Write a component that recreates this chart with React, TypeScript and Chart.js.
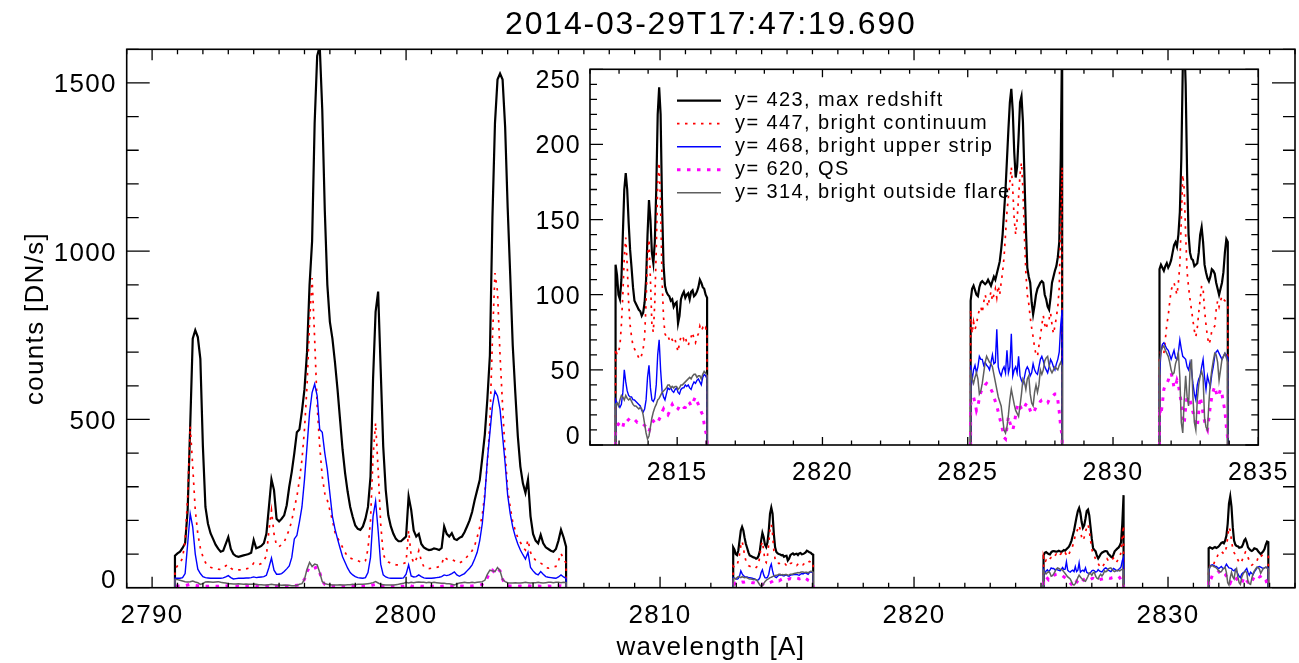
import React, { useEffect, useRef } from "react";
import { Chart, registerables } from "chart.js";
Chart.register(...registerables);

// ---------------- text ----------------
const TITLE = "2014-03-29T17:47:19.690";
const X_TITLE = "wavelength [A]";
const Y_TITLE = "counts [DN/s]";
const LEGEND_LABELS = [
  "y= 423, max redshift",
  "y= 447, bright continuum",
  "y= 468, bright upper strip",
  "y= 620, QS",
  "y= 314, bright outside flare",
];

// ---------------- wavelength grids (detector windows) ----------------
const W1_START = 2790.9;
const W1_STEP = 0.1;
const W2_START = 2812.88;
const W3_START = 2825.1;
const W4_START = 2831.6;
const FINE_STEP = 0.05;
const MISSING = -200; // value outside the spectral windows

// ---------------- window 1 (2790.9 - 2806.3, step 0.1) ----------------
const black1 = [
  95, 102, 107, 118, 132, 230, 480, 740, 765, 745,
  680, 420, 240, 190, 162, 145, 128, 116, 107, 110,
  130, 150, 115, 100, 94, 92, 94, 96, 98, 100,
  104, 142, 117, 120, 124, 132, 160, 240, 322, 290,
  205, 197, 205, 215, 245, 300, 345, 400, 462, 470,
  525, 590, 700, 900, 1030, 1380, 1580, 1610, 1420, 1120,
  900, 790, 740, 670, 590, 500, 410, 340, 285, 240,
  210, 185, 175, 172, 182, 205, 240, 330, 620, 820,
  880, 650, 420, 290, 215, 182, 160, 145, 138, 138,
  145, 152, 271, 232, 170, 152, 160, 130, 120, 115,
  112, 113, 117, 115, 112, 118, 182, 160, 152, 162,
  145, 142, 148, 152, 165, 182, 200, 225, 260, 290,
  320, 385, 455, 560, 690, 1100, 1380, 1510, 1528, 1510,
  1370, 1130, 930, 720, 580, 450, 360, 310, 282, 321,
  212, 160, 140, 132, 157, 132, 120, 115, 110, 107,
  115, 140, 172, 150, 122,
];
const red1 = [
  55, 65, 74, 88, 140, 270, 480, 360, 230, 160,
  118, 92, 75, 65, 61, 58, 57, 55, 54, 58,
  65, 68, 58, 53, 52, 53, 53, 54, 56, 58,
  62, 73, 68, 68, 72, 80, 95, 170, 230, 160,
  125, 122, 128, 135, 155, 172, 200, 238, 270, 320,
  380, 470, 600, 790, 920, 740, 540, 420, 330, 280,
  260, 230, 200, 165, 148, 135, 120, 105, 92, 88,
  85, 83, 80, 77, 74, 80, 115, 200, 391, 490,
  350, 190, 100, 82, 76, 73, 70, 68, 68, 70,
  72, 75, 170, 95, 73, 85, 110, 80, 62, 58,
  57, 58, 58, 60, 63, 70, 92, 85, 82, 84,
  80, 75, 73, 78, 84, 92, 100, 110, 125, 150,
  180, 215, 280, 370, 490, 740, 935, 880, 690, 540,
  400, 291, 240, 195, 170, 148, 135, 120, 112, 142,
  105, 90, 82, 76, 73, 68, 60, 58, 60, 62,
  63, 80, 102, 85, 73,
];
const blue1 = [
  28, 28, 28, 30, 42, 130, 220, 180, 100, 55,
  42, 33, 30, 29, 28, 28, 28, 28, 28, 29,
  32, 36, 30, 26, 27, 28, 28, 28, 29, 29,
  30, 32, 30, 31, 32, 33, 37, 60, 88, 52,
  40, 40, 42, 48, 56, 65, 90, 145, 155, 195,
  240, 321, 420, 520, 580, 605, 570, 470, 462, 400,
  351, 280, 212, 175, 145, 118, 92, 75, 58, 45,
  38, 33, 30, 29, 28, 30, 45, 90, 212, 257,
  170, 70, 38, 32, 29, 28, 28, 28, 28, 28,
  29, 40, 68, 35, 32, 33, 38, 33, 29, 28,
  28, 28, 29, 30, 31, 33, 38, 36, 38, 42,
  47, 38, 34, 38, 42, 50, 58, 68, 85, 105,
  140, 190, 270, 380, 460, 540, 584, 570, 530, 450,
  370, 275, 220, 180, 152, 130, 112, 98, 85, 105,
  60, 50, 42, 38, 48, 40, 33, 31, 30, 29,
  28, 32, 38, 32, 28,
];
const qs1 = [
  5, 5, 5, 6, 6, 8, 10, 9, 7, 6,
  5, 5, 4, 4, 5, 5, 4, 4, 5, 4,
  5, 6, 5, 4, 4, 4, 3, 4, 4, 4,
  4, 5, 4, 4, 4, 4, 5, 7, 8, 6,
  5, 4, 4, 5, 5, 5, 5, 6, 7, 9,
  14, 25, 48, 60, 55, 58, 62, 45, 20, 10,
  6, 5, 5, 4, 4, 4, 4, 3, 4, 4,
  4, 4, 3, 4, 4, 4, 5, 6, 8, 10,
  7, 5, 4, 4, 3, 4, 4, 4, 3, 4,
  4, 5, 8, 5, 4, 4, 5, 4, 4, 4,
  3, 4, 4, 4, 3, 4, 5, 4, 4, 4,
  4, 4, 4, 5, 4, 4, 5, 5, 6, 7,
  8, 10, 14, 30, 48, 52, 44, 56, 50, 25,
  10, 6, 5, 5, 4, 4, 5, 4, 5, 6,
  5, 4, 4, 5, 4, 4, 4, 5, 4, 4,
  4, 5, 6, 5, 4,
];
const gray1 = [
  25, 24, 22, 20, 18, 17, 18, 20, 17, 15,
  10, 12, 17, 18, 17, 16, 17, 18, 16, 15,
  14, 12, 12, 11, 11, 12, 11, 10, 11, 10,
  10, 11, 10, 9, 9, 8, 8, 9, 10, 9,
  8, 8, 7, 8, 7, 7, 6, 6, 7, 10,
  12, 25, 55, 75, 63, 70, 68, 45, 18, 12,
  10, 9, 8, 8, 8, 9, 8, 8, 9, 9,
  10, 9, 10, 10, 10, 11, 12, 13, 15, 18,
  14, 10, 9, 8, 8, 8, 8, 9, 10, 12,
  13, 16, 14, 16, 15, 16, 17, 16, 16, 15,
  16, 15, 16, 15, 14, 13, 13, 12, 12, 10,
  8, 11, 14, 15, 16, 15, 15, 16, 15, 16,
  17, 18, 22, 40, 52, 50, 48, 60, 50, 24,
  18, 15, 14, 14, 15, 14, 14, 15, 16, 15,
  14, 15, 15, 16, 15, 14, 15, 16, 16, 15,
  16, 16, 15, 16, 15,
];

// ---------------- window 2 (2812.88 - 2816.03, step 0.05) ----------------
const black2 = [
  120, 113, 100, 97, 110, 140, 170, 181, 170, 148,
  130, 118, 105, 96, 94, 92, 90, 89, 86, 88,
  95, 110, 140, 163, 150, 128, 121, 135, 170, 220,
  238, 220, 160, 120, 106, 102, 100, 99, 96, 97,
  92, 94, 95, 81, 86, 97, 100, 102, 98, 100,
  101, 97, 102, 103, 99, 100, 102, 105, 110, 108,
  105, 104, 100, 98,
];
const red2 = [
  64, 60, 62, 66, 80, 100, 125, 138, 120, 95,
  80, 72, 66, 64, 62, 60, 58, 57, 60, 64,
  72, 95, 125, 137, 110, 80, 75, 95, 130, 175,
  188, 160, 110, 85, 74, 72, 73, 70, 72, 70,
  68, 70, 66, 62, 68, 72, 73, 70, 72, 68,
  66, 70, 72, 75, 70, 68, 72, 74, 79, 76,
  78, 76, 78, 75,
];
const blue2 = [
  30, 28, 27, 25, 27, 35, 50, 42, 36, 33,
  32, 32, 30, 30, 29, 28, 27, 26, 23, 22,
  24, 30, 45, 53, 38, 30, 29, 31, 40, 60,
  70, 50, 36, 32, 30, 34, 38, 37, 38, 36,
  35, 37, 38, 35, 34, 37, 38, 38, 40, 39,
  40, 38, 37, 40, 42, 41, 43, 44, 42, 40,
  45, 47, 46, 44,
];
const qs2 = [
  8, 12, 14, 15, 13, 12, 16, 17, 16, 17,
  18, 18, 18, 17, 16, 15, 15, 14, 14, 14,
  13, 12, 9, 9, 12, 15, 16, 15, 14, 15,
  17, 19, 22, 24, 22, 21, 20, 22, 25, 27,
  25, 24, 23, 24, 26, 27, 26, 25, 25, 27,
  29, 28, 26, 27, 30, 32, 29, 27, 25, 22,
  20, 14, 9, 5,
];
const gray2 = [
  27, 28, 26, 30, 33, 32, 30, 33, 31, 30,
  31, 29, 27, 26, 26, 25, 24, 25, 24, 20,
  14, 8, 4, 6, 12, 18, 22, 25, 27, 30,
  31, 33, 35, 36, 37, 38, 40, 40, 38, 39,
  38, 39, 39, 37, 38, 40, 40, 41, 42, 43,
  44, 45, 44, 46, 47, 47, 45, 46, 46, 44,
  47, 49, 48, 46,
];

// ---------------- window 3 (2825.10 - 2828.25, step 0.05) ----------------
const black3 = [
  96, 104, 106, 103, 100, 99, 105, 108, 109, 108,
  107, 108, 110, 108, 106, 109, 112, 110, 114, 118,
  122, 130, 140, 155, 170, 190, 210, 228, 237, 222,
  195, 178, 185, 205, 228, 232, 215, 180, 145, 118,
  112, 108, 95, 87, 93, 100, 104, 106, 108, 109,
  108, 100, 97, 92, 90, 98, 108, 112, 116, 119,
  125, 135, 190, 275,
];
const red3 = [
  90, 74, 82, 77, 80, 86, 90, 92, 88, 95,
  100, 96, 92, 98, 102, 96, 100, 104, 98, 106,
  100, 108, 115, 125, 140, 155, 165, 175, 185, 170,
  150, 140, 150, 165, 180, 188, 170, 140, 115, 100,
  94, 85, 78, 72, 65, 60, 59, 66, 72, 80,
  86, 80, 77, 82, 84, 88, 80, 74, 79, 85,
  92, 105, 150, 185,
];
const blue3 = [
  53, 43, 50, 53, 48, 52, 59, 57, 57, 53,
  55, 53, 52, 50, 55, 60, 54, 55, 77, 52,
  48, 46, 50, 52, 48, 63, 48, 52, 74, 46,
  50, 52, 48, 59, 46, 43, 41, 45, 50, 52,
  50, 46, 48, 54, 50, 48, 47, 52, 57, 59,
  56, 52, 50, 48, 52, 57, 55, 52, 50, 54,
  57, 62, 80, 90,
];
const qs3 = [
  27, 30, 32, 28, 23, 26, 31, 35, 37, 38,
  40, 41, 40, 38, 37, 35, 32, 29, 26, 22,
  18, 14, 10, 5, 4, 12, 19, 15, 12, 10,
  14, 20, 25, 28, 26, 24, 23, 25, 27, 28,
  26, 23, 21, 21, 23, 25, 26, 27, 29, 30,
  30, 29, 28, 28, 30, 31, 32, 33, 34, 34,
  30, 22, 12, 6,
];
const gray3 = [
  50, 44, 41, 45, 48, 44, 34, 36, 41, 48,
  55, 59, 57, 55, 54, 52, 47, 42, 37, 32,
  29, 26, 18, 10, 8, 12, 20, 30, 37, 32,
  27, 23, 21, 19, 26, 34, 44, 42, 37, 44,
  46, 34, 28, 26, 35, 40, 35, 40, 50, 47,
  50, 56, 58, 59, 53, 50, 48, 50, 52, 51,
  50, 53, 55, 52,
];

// ---------------- window 4 (2831.60 - 2833.95, step 0.05) ----------------
const black4 = [
  117, 120, 118, 116, 119, 121, 118, 120, 123, 128,
  133, 135, 132, 140, 155, 190, 250, 271, 240, 180,
  140, 128, 124, 123, 119, 120, 121, 128, 140, 145,
  135, 120, 115, 111, 109, 112, 117, 116, 114, 108,
  104, 100, 104, 108, 115, 128, 137, 135,
];
const red4 = [
  57, 64, 66, 61, 70, 80, 86, 95, 103, 106,
  108, 104, 100, 108, 120, 150, 180, 170, 140, 115,
  105, 97, 90, 83, 76, 72, 78, 88, 97, 106,
  104, 90, 80, 72, 67, 70, 76, 78, 79, 90,
  96, 92, 96, 99, 97, 96, 95, 93,
];
const blue4 = [
  46, 62, 67, 68, 66, 64, 63, 60, 57, 60,
  63, 58, 57, 62, 70, 64, 59, 58, 57, 52,
  50, 55, 50, 41, 34, 30, 40, 44, 46, 52,
  57, 45, 37, 46, 42, 39, 47, 52, 59, 62,
  63, 61, 59, 57, 59, 61, 60, 58,
];
const qs4 = [
  25, 20, 28, 37, 40, 41, 43, 46, 48, 44,
  38, 39, 43, 40, 34, 28, 18, 14, 25, 32,
  31, 30, 26, 22, 18, 15, 12, 22, 32, 27,
  21, 16, 12, 10, 18, 26, 32, 36, 39, 35,
  32, 34, 37, 34, 28, 23, 12, 4,
];
const gray4 = [
  54, 62, 65, 66, 63, 61, 59, 55, 50, 47,
  48, 54, 57, 61, 45, 15, 8, 30, 46, 32,
  26, 50, 57, 32, 15, 10, 30, 40, 46, 49,
  45, 18, 12, 10, 28, 42, 50, 56, 61, 60,
  55, 43, 50, 57, 59, 61, 58, 55,
];

// ---------------- helpers ----------------
const grid = (start: number, step: number, n: number) =>
  Array.from({ length: n }, (_, i) => Math.round((start + i * step) * 1000) / 1000);

const WL1 = grid(W1_START, W1_STEP, black1.length);
const WL2 = grid(W2_START, FINE_STEP, black2.length);
const WL3 = grid(W3_START, FINE_STEP, black3.length);
const WL4 = grid(W4_START, FINE_STEP, black4.length);
const WINDOWS = [WL1, WL2, WL3, WL4];

function buildPoints(parts: number[][]) {
  const pts: { x: number; y: number | null }[] = [];
  parts.forEach((vals, w) => {
    const wl = WINDOWS[w];
    pts.push({ x: wl[0], y: MISSING });
    vals.forEach((v, i) => pts.push({ x: wl[i], y: v }));
    pts.push({ x: wl[wl.length - 1], y: MISSING });
    pts.push({ x: wl[wl.length - 1] + 0.01, y: null });
  });
  return pts;
}

const SERIES = [
  { label: LEGEND_LABELS[0], color: "#000000", width: 2.2, dash: [] as number[], parts: [black1, black2, black3, black4], order: 4 },
  { label: LEGEND_LABELS[1], color: "#ff0000", width: 1.7, dash: [2.5, 5.5], parts: [red1, red2, red3, red4], order: 3 },
  { label: LEGEND_LABELS[2], color: "#0000ff", width: 1.4, dash: [] as number[], parts: [blue1, blue2, blue3, blue4], order: 2 },
  { label: LEGEND_LABELS[3], color: "#ff00ff", width: 3, dash: [3.5, 6.5], parts: [qs1, qs2, qs3, qs4], order: 1 },
  { label: LEGEND_LABELS[4], color: "#5f5f5f", width: 1.5, dash: [] as number[], parts: [gray1, gray2, gray3, gray4], order: 0 },
];

const FONT = '"Liberation Sans", Arial, Helvetica, sans-serif';

function makeDatasets() {
  return SERIES.map((s) => ({
    label: s.label,
    data: buildPoints(s.parts),
    borderColor: s.color,
    borderWidth: s.width,
    borderDash: s.dash,
    pointRadius: 0,
    tension: 0,
    fill: false,
    spanGaps: false,
    order: s.order,
  }));
}

type FrameOpts = {
  id: string;
  xMajor: number; xMinor: number; xMajorLen: number; xMinorLen: number;
  yMajor: number; yMinor: number; yMajorLen: number; yMinorLen: number;
  fontSize: number; ls: string; xLabelBase: number; yGap: number;
  frameWidth: number; tickWidth: number;
};

function framePlugin(o: FrameOpts) {
  return {
    id: o.id,
    afterDatasetsDraw(chart: any) {
      const ctx = chart.ctx;
      const a = chart.chartArea;
      const xs = chart.scales.x;
      const ys = chart.scales.y;
      ctx.save();
      ctx.strokeStyle = "#000";
      ctx.lineWidth = o.tickWidth;
      ctx.beginPath();
      const isMajor = (v: number, m: number) => Math.abs(v / m - Math.round(v / m)) < 1e-6;
      for (let i = Math.ceil(xs.min / o.xMinor - 1e-9); i <= Math.floor(xs.max / o.xMinor + 1e-9); i++) {
        const v = i * o.xMinor;
        const len = isMajor(v, o.xMajor) ? o.xMajorLen : o.xMinorLen;
        const px = xs.getPixelForValue(v);
        ctx.moveTo(px, a.bottom); ctx.lineTo(px, a.bottom - len);
        ctx.moveTo(px, a.top); ctx.lineTo(px, a.top + len);
      }
      for (let i = Math.ceil(ys.min / o.yMinor - 1e-9); i <= Math.floor(ys.max / o.yMinor + 1e-9); i++) {
        const v = i * o.yMinor;
        const len = isMajor(v, o.yMajor) ? o.yMajorLen : o.yMinorLen;
        const py = ys.getPixelForValue(v);
        ctx.moveTo(a.left, py); ctx.lineTo(a.left + len, py);
        ctx.moveTo(a.right, py); ctx.lineTo(a.right - len, py);
      }
      ctx.stroke();
      ctx.lineWidth = o.frameWidth;
      ctx.strokeRect(a.left, a.top, a.right - a.left, a.bottom - a.top);

      ctx.fillStyle = "#000";
      ctx.font = `${o.fontSize}px ${FONT}`;
      ctx.letterSpacing = o.ls;
      ctx.textBaseline = "alphabetic";
      ctx.textAlign = "center";
      for (let i = Math.ceil(xs.min / o.xMajor - 1e-9); i <= Math.floor(xs.max / o.xMajor + 1e-9); i++) {
        const v = i * o.xMajor;
        ctx.fillText(String(Math.round(v)), xs.getPixelForValue(v), a.bottom + o.xLabelBase);
      }
      ctx.textAlign = "right";
      const digitH = o.fontSize * 0.716;
      const half = 9.5;
      for (let i = Math.ceil(ys.min / o.yMajor - 1e-9); i <= Math.floor(ys.max / o.yMajor + 1e-9); i++) {
        const v = i * o.yMajor;
        let c = ys.getPixelForValue(v);
        c = Math.min(Math.max(c, a.top + half), a.bottom - half);
        ctx.fillText(String(Math.round(v)), a.left - o.yGap, c + digitH / 2);
      }
      ctx.restore();
    },
  };
}

const titlesPlugin = {
  id: "titles",
  afterDatasetsDraw(chart: any) {
    const ctx = chart.ctx;
    const a = chart.chartArea;
    const cx = (a.left + a.right) / 2;
    const cy = (a.top + a.bottom) / 2;
    ctx.save();
    ctx.fillStyle = "#000";
    ctx.textAlign = "center";
    ctx.textBaseline = "alphabetic";
    ctx.font = `32px ${FONT}`;
    ctx.letterSpacing = "1.8px";
    ctx.fillText(TITLE, cx, a.top - 15);
    ctx.font = `26px ${FONT}`;
    ctx.letterSpacing = "1.3px";
    ctx.fillText(X_TITLE, cx, a.bottom + 67);
    ctx.translate(36, cy);
    ctx.rotate(-Math.PI / 2);
    ctx.textBaseline = "middle";
    ctx.fillText(Y_TITLE, 0, 0);
    ctx.restore();
  },
};

const legendPlugin = {
  id: "insetLegend",
  afterDatasetsDraw(chart: any) {
    const ctx = chart.ctx;
    const a = chart.chartArea;
    ctx.save();
    ctx.font = `20px ${FONT}`;
    ctx.letterSpacing = "1.4px";
    ctx.textAlign = "left";
    ctx.textBaseline = "alphabetic";
    SERIES.forEach((s, k) => {
      const y = a.top + 31.4 + k * 23;
      ctx.beginPath();
      ctx.strokeStyle = s.color;
      ctx.lineWidth = s.width;
      ctx.setLineDash(s.dash);
      ctx.moveTo(a.left + 87, y);
      ctx.lineTo(a.left + 131, y);
      ctx.stroke();
      ctx.setLineDash([]);
      ctx.fillStyle = "#000";
      ctx.fillText(s.label, a.left + 145, y + 5);
    });
    ctx.restore();
  },
};

function baseOptions(padding: any, xMin: number, xMax: number, yMin: number, yMax: number) {
  return {
    animation: false,
    responsive: false,
    maintainAspectRatio: false,
    events: [],
    layout: { padding },
    plugins: { legend: { display: false }, title: { display: false }, tooltip: { enabled: false } },
    scales: {
      x: { type: "linear", min: xMin, max: xMax, display: false },
      y: { type: "linear", min: yMin, max: yMax, display: false },
    },
  };
}

export default function App() {
  const mainRef = useRef<HTMLCanvasElement | null>(null);
  const insetRef = useRef<HTMLCanvasElement | null>(null);

  useEffect(() => {
    const main = new Chart(mainRef.current as HTMLCanvasElement, {
      type: "line",
      data: { datasets: makeDatasets() as any },
      options: baseOptions({ left: 126.7, top: 49.3, right: 4, bottom: 75.3 }, 2789, 2835, 0, 1600) as any,
      plugins: [
        framePlugin({
          id: "mainFrame",
          xMajor: 10, xMinor: 1, xMajorLen: 11, xMinorLen: 5,
          yMajor: 500, yMinor: 100, yMajorLen: 23, yMinorLen: 12,
          fontSize: 26, ls: "1.3px", xLabelBase: 35, yGap: 10,
          frameWidth: 1.6, tickWidth: 1.3,
        }),
        titlesPlugin,
      ],
    });
    const inset = new Chart(insetRef.current as HTMLCanvasElement, {
      type: "line",
      data: { datasets: makeDatasets() as any },
      options: baseOptions({ left: 590, top: 69.3, right: 40.7, bottom: 218 }, 2812, 2835, 0, 250) as any,
      plugins: [
        framePlugin({
          id: "insetFrame",
          xMajor: 5, xMinor: 1, xMajorLen: 8, xMinorLen: 4.5,
          yMajor: 50, yMinor: 10, yMajorLen: 13, yMinorLen: 7,
          fontSize: 25, ls: "1.3px", xLabelBase: 35, yGap: 9,
          frameWidth: 1.6, tickWidth: 1.3,
        }),
        legendPlugin,
      ],
    });
    return () => {
      main.destroy();
      inset.destroy();
    };
  }, []);

  const canvasStyle: React.CSSProperties = { position: "absolute", left: 0, top: 0, width: 1299, height: 663 };
  return (
    <div style={{ position: "fixed", left: 0, top: 0, width: 1299, height: 663, background: "#ffffff" }}>
      <canvas ref={mainRef} width={1299} height={663} style={canvasStyle} />
      <canvas ref={insetRef} width={1299} height={663} style={canvasStyle} />
    </div>
  );
}
